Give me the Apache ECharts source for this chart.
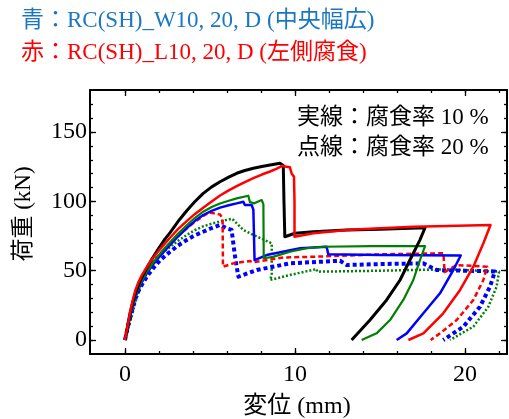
<!DOCTYPE html>
<html><head><meta charset="utf-8">
<script src="https://cdn.jsdelivr.net/npm/echarts@6/dist/echarts.min.js"></script>
<style>html,body{margin:0;padding:0;background:#fff}#c{width:509px;height:419px}</style>
</head><body><div id="c"></div>
<script>
// ---- Data (displacement mm, load kN) ----
const xMajorTicks = [0, 10, 20];
const xMinorTicks = [0, 2, 4, 6, 8, 10, 12, 14, 16, 18, 20, 22];
const yMajorTicks = [0, 50, 100, 150];
const yMinorTicks = [0, 10, 20, 30, 40, 50, 60, 70, 80, 90, 100, 110, 120, 130, 140, 150, 160, 170];

const titleBlue = '青：RC(SH)_W10, 20, D (中央幅広)';
const titleRed = '赤：RC(SH)_L10, 20, D (左側腐食)';
const noteSolid = '実線：腐食率 10 %';
const noteDotted = '点線：腐食率 20 %';
const xName = '変位 (mm)';
const yName = '荷重 (kN)';

const blackSolid = [[0,0],[0.15,10],[0.3,19.5],[0.45,27],[0.6,33.5],[0.8,40],[1.0,45.5],[1.3,52.5],[1.6,58.8],[2.0,66.5],[2.3,72],[2.65,77.5],[3.2,86.8],[3.63,93.3],[4.1,99.8],[4.6,105.8],[5.1,110.5],[5.59,114.2],[6.1,117.5],[6.57,120.3],[7.05,122.3],[7.55,123.9],[8.05,125.2],[8.53,126.3],[9.12,127.5],[9.31,126],[9.35,100],[9.4,74.5],[9.51,75.8],[10.0,77],[11.08,78.1],[13.04,79.4],[15.0,80],[17.65,81],[17.35,72.2],[16.76,57.7],[16.18,43.3],[15.39,28.9],[14.41,14.4],[13.33,0]];
const redSolid = [[0,0],[0.15,10.5],[0.3,20],[0.45,28.5],[0.6,35.5],[0.8,42],[1.0,47],[1.3,53],[1.6,58.5],[1.96,64],[2.3,69],[2.65,73.8],[3.1,79.8],[3.63,85.8],[4.1,90.8],[4.6,95.5],[5.1,100],[5.59,104.3],[6.1,108],[6.57,111],[7.05,114],[7.55,116.8],[8.05,119.4],[8.53,121.6],[8.9,123.5],[9.22,125.5],[9.7,124.6],[9.8,120.2],[9.94,117.8],[9.97,100],[9.97,74.5],[11.08,77],[13.04,79.4],[15,80.6],[16.96,81.8],[18.92,82.3],[21.5,83],[21.08,69.8],[20.49,52.9],[19.71,36.1],[18.72,19.3],[17.55,4.8],[16.67,0]];
const greenSolid = [[0,0],[0.15,9],[0.3,17],[0.45,25],[0.6,31.5],[0.8,38],[1.0,43],[1.3,49.5],[1.6,55],[1.96,60.8],[2.3,65.8],[2.65,70.6],[3.1,76.4],[3.63,82.8],[4.1,88],[4.6,92.6],[5.1,96],[5.59,98.5],[6.1,100.5],[6.57,102.2],[7.25,104.1],[7.35,99.5],[7.6,98.6],[8.04,101],[8.14,98],[8.16,59],[8.7,60],[9.7,63.7],[10.7,66.2],[11.67,67.3],[14.5,67.8],[17.65,67.8],[17.35,57.7],[16.96,43.3],[16.37,28.9],[15.59,14.4],[14.8,4.8],[13.92,0]];
const blueSolid = [[0,0],[0.15,9],[0.3,16.5],[0.45,24],[0.6,30.5],[0.8,37],[1.0,42],[1.3,48.5],[1.6,53.8],[1.96,59.2],[2.3,64],[2.65,68.7],[3.1,74.5],[3.63,80.8],[4.1,85.8],[4.6,90.2],[5.1,93.2],[5.59,95.5],[6.1,97.2],[6.57,98.6],[6.96,99.8],[7.05,97.4],[7.45,97.4],[7.55,94],[7.62,57.7],[8.33,61.3],[10.3,66.2],[11.86,67.3],[11.96,61.8],[15,61.3],[19.75,61],[19.31,50.5],[18.53,33.7],[17.55,19.3],[16.57,4.8],[15.98,0]];
const redDotted = [[0,0],[0.15,10],[0.3,19],[0.45,27],[0.6,33.5],[0.8,40],[1.0,45],[1.3,51],[1.6,56],[1.96,60.8],[2.3,65.2],[2.65,69.5],[3.1,74.8],[3.63,80.5],[4.1,85.2],[4.6,89.5],[4.95,92],[5.59,90.5],[5.74,88],[5.76,52.9],[6.37,55.3],[7.35,57],[7.5,56],[9.31,59.5],[11.1,60.1],[15,61.8],[18.73,62.6],[18.8,49],[19.51,54.1],[21.3,52.9],[21.08,43.3],[20.49,28.9],[19.51,14.4],[18.53,4.8],[17.98,0]];
const blueDotted = [[0,0],[0.15,8.5],[0.3,16],[0.45,23],[0.6,29.5],[0.8,35.5],[1.0,40],[1.3,46],[1.67,52],[2.1,58],[2.65,63.7],[3.1,68],[3.63,72.2],[4.1,75.5],[4.6,78.1],[5.1,80.8],[5.59,83],[5.98,80.6],[6.27,79.4],[6.37,69.8],[6.5,57.7],[6.67,45.7],[7.75,50.5],[9.7,55.3],[12.65,57.2],[13.04,54.1],[15,54.8],[17.55,55.3],[18.33,50.5],[21.76,49.5],[21.47,38.5],[20.88,24],[19.9,9.6],[18.72,0]];
const greenDotted = [[0,0],[0.15,6],[0.3,13],[0.49,21.6],[0.7,31],[0.98,42],[1.25,49.5],[1.57,55.3],[2.1,61.8],[2.65,67.2],[3.1,71.4],[3.63,75.8],[4.1,79.2],[4.6,82],[5.1,84],[5.59,85.6],[6.3,87.5],[6.5,85],[6.96,79.4],[7.55,75.8],[8.63,69.8],[8.63,46.9],[8.53,43.3],[9.7,46.9],[11.27,51.2],[11.3,49.3],[15,50],[18.92,51],[22.0,49.3],[21.86,38.5],[21.37,24],[20.49,9.6],[19.12,0]];

// ---- Layout ----
const X_MIN = -2.06, X_MAX = 22.47, Y_MIN = -10.1, Y_MAX = 180.4;
const SERIF = "'Liberation Serif', 'Noto Sans CJK JP', serif";

function xAx(pos, ticks, len, labels, showLine) {
  return {
    type: 'value', position: pos, min: X_MIN, max: X_MAX,
    axisLine: { show: showLine, onZero: false, lineStyle: { color: '#000', width: 2 } },
    axisTick: { show: true, inside: true, length: len, customValues: ticks, lineStyle: { color: '#000', width: 1.3 } },
    axisLabel: labels ? { show: true, customValues: ticks, fontSize: 24, fontFamily: SERIF, color: '#000', margin: 9 } : { show: false },
    splitLine: { show: false }
  };
}
function yAx(pos, ticks, len, labels, showLine) {
  return {
    type: 'value', position: pos, min: Y_MIN, max: Y_MAX,
    axisLine: { show: showLine, onZero: false, lineStyle: { color: '#000', width: 2 } },
    axisTick: { show: true, inside: true, length: len, customValues: ticks, lineStyle: { color: '#000', width: 1.3 } },
    axisLabel: labels ? { show: true, customValues: ticks, fontSize: 24, fontFamily: SERIF, color: '#000', margin: 3 } : { show: false },
    splitLine: { show: false }
  };
}
function line(data, color, width, type) {
  return {
    type: 'line', data: data, showSymbol: false, symbol: 'none', smooth: false,
    lineStyle: { color: color, width: width, type: type || 'solid', cap: 'butt', join: 'round' },
    xAxisIndex: 0, yAxisIndex: 0, animation: false, silent: true
  };
}

const chart = echarts.init(document.getElementById('c'), null, { renderer: 'canvas' });
chart.setOption({
  backgroundColor: '#fff',
  animation: false,
  grid: { left: 90, top: 90, right: 2, bottom: 65, containLabel: false },
  xAxis: [
    xAx('bottom', xMajorTicks, 6, true, true),
    xAx('bottom', xMinorTicks, 3, false, false),
    xAx('top', xMajorTicks, 6, false, true),
    xAx('top', xMinorTicks, 3, false, false)
  ],
  yAxis: [
    yAx('left', yMajorTicks, 6, true, true),
    yAx('left', yMinorTicks, 3, false, false),
    yAx('right', yMajorTicks, 6, false, true),
    yAx('right', yMinorTicks, 3, false, false)
  ],
  series: [
    line(greenDotted, '#008000', 2.5, [2, 2]),
    line(blueDotted, '#0000ff', 4, [4, 3]),
    line(redDotted, '#ff0000', 2.5, [5, 3]),
    line(blueSolid, '#0000ff', 2.5),
    line(greenSolid, '#008000', 2.2),
    line(blackSolid, '#000000', 3),
    line(redSolid, '#ff0000', 2.5)
  ],
  graphic: [
    { type: 'text', left: 21, top: 9, style: { text: titleBlue, fill: '#1a78c2', font: "23px 'Liberation Serif', 'Noto Sans CJK JP'" } },
    { type: 'text', left: 21, top: 41, style: { text: titleRed, fill: '#ff0000', font: "23px 'Liberation Serif', 'Noto Sans CJK JP'" } },
    { type: 'text', left: 297, top: 106, style: { text: noteSolid, fill: '#000', font: "23px 'Liberation Serif', 'Noto Sans CJK JP'" } },
    { type: 'text', left: 297, top: 136, style: { text: noteDotted, fill: '#000', font: "23px 'Liberation Serif', 'Noto Sans CJK JP'" } },
    { type: 'text', x: 297, y: 407, style: { text: xName, fill: '#000', font: "24px 'Liberation Serif', 'Noto Sans CJK JP'", textAlign: 'center', textVerticalAlign: 'middle' } },
    { type: 'text', x: 24, y: 214, rotation: Math.PI / 2, style: { text: yName, fill: '#000', font: "23px 'Liberation Serif', 'Noto Sans CJK JP'", textAlign: 'center', textVerticalAlign: 'middle' } }
  ]
});
</script>
</body></html>
